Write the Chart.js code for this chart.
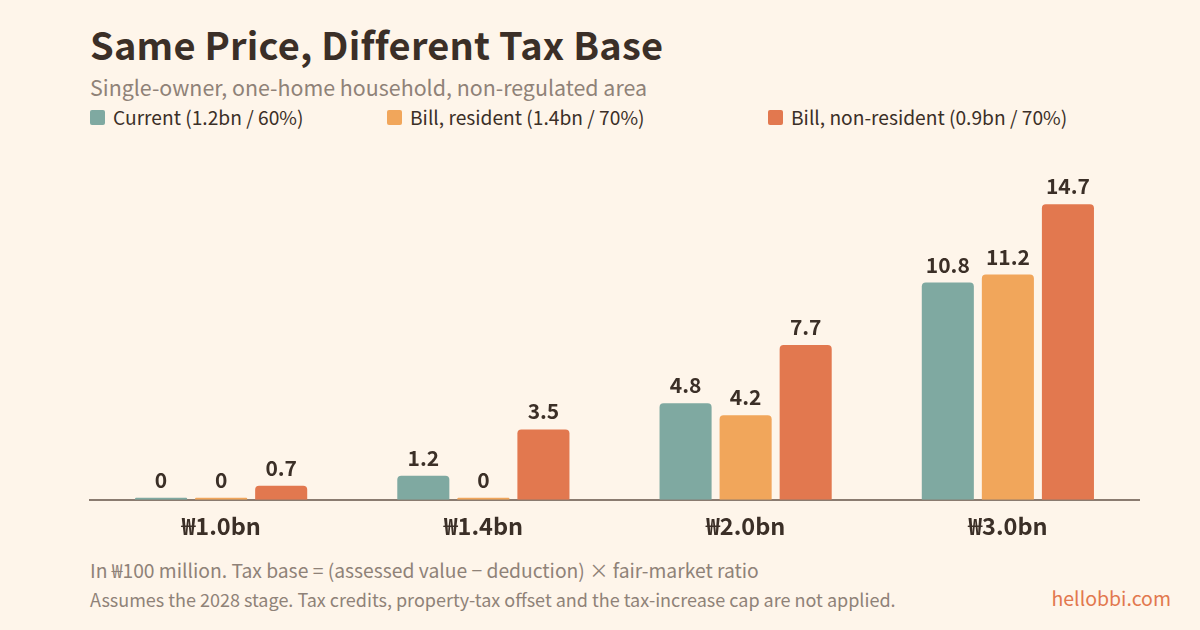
<!DOCTYPE html>
<html>
<head>
<meta charset="utf-8">
<script src="https://cdn.jsdelivr.net/npm/chart.js@4.4.1/dist/chart.umd.min.js"></script>
<style>
  html, body { margin:0; padding:0; width:1200px; height:630px; background:#fef5ea; overflow:hidden; }
  body { font-family:"Noto Sans CJK KR","Noto Sans",sans-serif; position:relative; color:#3b2f27; }
  .title { position:absolute; left:90px; top:22px; font-size:38px; font-weight:700; color:#3b2f27; line-height:44px; letter-spacing:0.2px; }
  .subtitle { position:absolute; left:90px; top:73px; font-size:21.4px; color:#8f8278; line-height:28px; }
  .legend-item { position:absolute; top:104px; font-size:19.2px; color:#3b2f27; line-height:26px; display:flex; align-items:center; }
  .legend-item i { display:inline-block; width:15px; height:15px; border-radius:2px; margin-right:8px; }
  .note1 { position:absolute; left:90px; top:557px; font-size:19.3px; color:#8f8278; line-height:26px; }
  .note2 { position:absolute; left:90px; top:587px; font-size:18px; color:#8f8278; line-height:24px; }
  .brand { position:absolute; right:29px; top:585px; font-size:19.5px; color:#e2784e; line-height:26px; }
  #wrap { position:absolute; left:0; top:150px; width:1200px; height:422px; }
</style>
</head>
<body>
<div class="title">Same Price, Different Tax Base</div>
<div class="subtitle">Single-owner, one-home household, non-regulated area</div>
<div id="legend"></div>
<div class="note1">In ₩100 million. Tax base = (assessed value − deduction) × fair-market ratio</div>
<div class="note2">Assumes the 2028 stage. Tax credits, property-tax offset and the tax-increase cap are not applied.</div>
<div class="brand">hellobbi.com</div>
<div id="wrap"><canvas id="c"></canvas></div>
<script>
const categories = ["₩1.0bn", "₩1.4bn", "₩2.0bn", "₩3.0bn"];
const seriesNames = ["Current (1.2bn / 60%)", "Bill, resident (1.4bn / 70%)", "Bill, non-resident (0.9bn / 70%)"];
const currentValues = [0, 1.2, 4.8, 10.8];
const residentValues = [0, 0, 4.2, 11.2];
const nonResidentValues = [0.7, 3.5, 7.7, 14.7];
const seriesColors = ["#7fa9a1", "#f1a65b", "#e2784f"];
const legendLeft = [90, 387, 768];

const legendEl = document.getElementById('legend');
seriesNames.forEach((n, i) => {
  const d = document.createElement('div');
  d.className = 'legend-item';
  d.style.left = legendLeft[i] + 'px';
  d.innerHTML = '<i style="background:' + seriesColors[i] + '"></i>' + n;
  legendEl.appendChild(d);
});

const valueLabels = {
  id: 'valueLabels',
  afterDatasetsDraw(chart) {
    const ctx = chart.ctx;
    ctx.save();
    ctx.font = '700 21px "Noto Sans CJK KR", "Noto Sans", sans-serif';
    ctx.fillStyle = '#3b2f27';
    ctx.textAlign = 'center';
    ctx.textBaseline = 'alphabetic';
    chart.data.datasets.forEach((ds, di) => {
      chart.getDatasetMeta(di).data.forEach((bar, i) => {
        const v = ds.data[i];
        const top = Math.min(bar.y, bar.base);
        ctx.fillText(String(v), bar.x, top - 10);
      });
    });
    ctx.restore();
  }
};

new Chart(document.getElementById('c'), {
  type: 'bar',
  data: {
    labels: categories,
    datasets: [
      { label: seriesNames[0], data: currentValues, backgroundColor: seriesColors[0] },
      { label: seriesNames[1], data: residentValues, backgroundColor: seriesColors[1] },
      { label: seriesNames[2], data: nonResidentValues, backgroundColor: seriesColors[2] }
    ]
  },
  options: {
    responsive: true,
    maintainAspectRatio: false,
    animation: false,
    devicePixelRatio: 1,
    layout: { padding: { left: 90, right: 61, top: 28, bottom: 20 } },
    datasets: {
      bar: {
        categoryPercentage: 0.687,
        barPercentage: 0.867,
        borderRadius: 4,
        minBarLength: 2
      }
    },
    plugins: { legend: { display: false }, tooltip: { enabled: false } },
    scales: {
      x: {
        grid: { display: false, drawTicks: false },
        border: { display: true, color: '#8a7b70', width: 2 },
        ticks: {
          color: '#3b2f27',
          font: { family: '"Noto Sans CJK KR", "Noto Sans", sans-serif', size: 23.5, weight: '700' },
          padding: 12
        }
      },
      y: {
        display: false,
        min: 0,
        max: 16
      }
    }
  },
  plugins: [valueLabels]
});
</script>
</body>
</html>
